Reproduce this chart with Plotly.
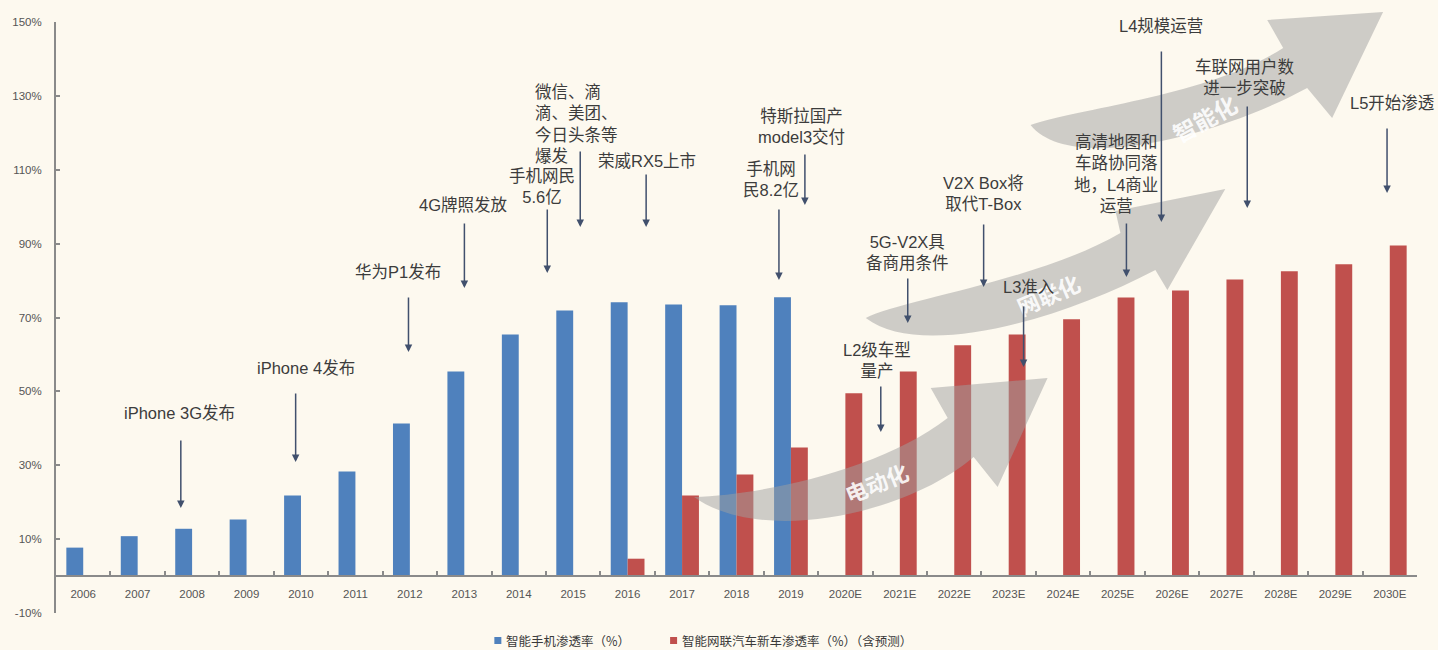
import plotly.graph_objects as go

# ---------------- data ----------------
years = ["2006", "2007", "2008", "2009", "2010", "2011", "2012", "2013", "2014",
         "2015", "2016", "2017", "2018", "2019", "2020E", "2021E", "2022E",
         "2023E", "2024E", "2025E", "2026E", "2027E", "2028E", "2029E", "2030E"]
smartphone_rate = [7.7, 10.8, 12.8, 15.3, 21.8, 28.3, 41.3, 55.4, 65.4,
                   71.9, 74.1, 73.5, 73.3, 75.5] + [None] * 11
icv_rate = [None] * 10 + [4.7, 21.8, 27.5, 34.8, 49.5, 55.4, 62.5, 65.4,
                          69.5, 75.4, 77.3, 80.3, 82.5, 84.4, 89.5]
series_names = ["智能手机渗透率（%）", "智能网联汽车新车渗透率（%）（含预测）"]
y_tick_vals = [-10, 10, 30, 50, 70, 90, 110, 130, 150]
y_tick_text = ["-10%", "10%", "30%", "50%", "70%", "90%", "110%", "130%", "150%"]

events = ["iPhone 3G发布", "iPhone 4发布", "华为P1发布", "4G牌照发放",
          "手机网民<br>5.6亿", "微信、滴<br>滴、美团、<br>今日头条等<br>爆发",
          "荣威RX5上市", "特斯拉国产<br>model3交付", "手机网<br>民8.2亿",
          "L2级车型<br>量产", "5G-V2X具<br>备商用条件", "V2X Box将<br>取代T-Box",
          "L3准入", "高清地图和<br>车路协同落<br>地，L4商业<br>运营", "L4规模运营",
          "车联网用户数<br>进一步突破", "L5开始渗透"]
stages = ["电动化", "网联化", "智能化"]

# ---------------- styling / layout helpers ----------------
W, H = 1438, 650
L, R, T, B = 54, 21, 22, 37
PW, PH = W - L - R, H - T - B
BG = "#FDF9EF"
BLUE, RED = "#4F81BD", "#C0504D"
FONT = "Liberation Sans, Noto Sans CJK SC, sans-serif"
TXT = "#3c3c3c"


def px(x):
    return (x - L) / PW


def py(y):
    return (H - B - y) / PH


fig = go.Figure()
fig.add_trace(go.Bar(x=years, y=smartphone_rate, name=series_names[0],
                     marker=dict(color=BLUE, line=dict(width=0)), showlegend=False))
fig.add_trace(go.Bar(x=years, y=icv_rate, name=series_names[1],
                     marker=dict(color=RED, line=dict(width=0)), showlegend=False))

shapes = []
annotations = []

# swoosh arrows (decorative), pixel coordinates -> paper
swooshes = [
    dict(T=(693, 497), U1=(760, 495), U2=(880, 470), NU=(947, 418), BL=(930, 388),
         P=(1047, 378), BR=(997, 487), NL=(973, 457), L1=(905, 515), L2=(760, 545)),
    dict(T=(865, 318), U1=(900, 300), U2=(1040, 280), NU=(1120, 233), BL=(1115, 211),
         P=(1225, 189), BR=(1167, 290), NL=(1155, 270), L1=(1060, 320), L2=(920, 360)),
    dict(T=(1030, 125), U1=(1080, 108), U2=(1210, 95), NU=(1283, 48), BL=(1267, 20),
         P=(1383, 12), BR=(1332, 118), NL=(1307, 88), L1=(1220, 135), L2=(1070, 175)),
]


def pt(p):
    return f"{px(p[0]):.5f},{py(p[1]):.5f}"


for s in swooshes:
    path = (f"M{pt(s['T'])} C{pt(s['U1'])} {pt(s['U2'])} {pt(s['NU'])} "
            f"L{pt(s['BL'])} L{pt(s['P'])} L{pt(s['BR'])} L{pt(s['NL'])} "
            f"C{pt(s['L1'])} {pt(s['L2'])} {pt(s['T'])} Z")
    shapes.append(dict(type="path", path=path, xref="paper", yref="paper",
                       fillcolor="rgba(160,160,160,0.5)", line=dict(width=0),
                       layer="above"))

stage_pos = [(876, 484, -22, 22), (1048, 296, -24, 22), (1205, 120, -29, 23)]
for name, (x, y, ang, fs) in zip(stages, stage_pos):
    annotations.append(dict(x=px(x), y=py(y), xref="paper", yref="paper", text=f"<b>{name}</b>",
                            showarrow=False, textangle=ang,
                            font=dict(family=FONT, size=fs, color="rgba(255,255,255,0.9)"),
                            xanchor="center", yanchor="middle"))

# event labels
text_pos = [
    (178, 413, "center"), (304, 368, "center"), (397, 272, "center"), (462, 205, "center"),
    (541, 186, "center"), (532, 124, "left"), (646, 161, "center"), (801, 126, "center"),
    (770, 180, "center"), (876, 360, "center"), (907, 252, "center"), (983, 194, "center"),
    (1028, 287, "center"), (1116, 174, "center"), (1161, 26, "center"), (1245, 77, "center"),
    (1392, 103, "center"),
]
for txt, (x, y, anc) in zip(events, text_pos):
    annotations.append(dict(x=px(x), y=py(y), xref="paper", yref="paper", text=txt,
                            showarrow=False, align=anc, xanchor=anc, yanchor="middle",
                            font=dict(family=FONT, size=16.5, color=TXT)))

# event arrows (x, tail y, head y)
arrow_pos = [
    (179, 439, 508), (294, 392, 462), (407, 296, 352), (463, 222, 288), (546, 208, 273),
    (579, 150, 227), (645, 173, 227), (804, 153, 205), (778, 208, 280), (880, 385, 432),
    (907, 277, 323), (983, 223, 287), (1023, 305, 367), (1126, 222, 277), (1161, 50, 222),
    (1247, 105, 208), (1387, 127, 193),
]
for x, yt, yh in arrow_pos:
    annotations.append(dict(x=px(x), y=py(yh), xref="paper", yref="paper", text="",
                            showarrow=True, ax=0, ay=yt - yh, axref="pixel", ayref="pixel",
                            arrowhead=2, arrowsize=1, arrowwidth=1.5,
                            arrowcolor="#41506d", standoff=0, startstandoff=0))

# legend (manual)
legend_items = [(493, BLUE, series_names[0]), (669, RED, series_names[1])]
for x, col, name in legend_items:
    shapes.append(dict(type="rect", xref="paper", yref="paper",
                       x0=px(x), x1=px(x + 7), y0=py(644), y1=py(637),
                       fillcolor=col, line=dict(width=0)))
    annotations.append(dict(x=px(x + 10), y=py(640.5), xref="paper", yref="paper",
                            text=name, showarrow=False, xanchor="left", yanchor="middle",
                            font=dict(family="Noto Sans CJK SC", size=12.5, color="#3a3a3a")))

fig.update_layout(
    width=W, height=H,
    margin=dict(l=L, r=R, t=T, b=B, pad=0),
    paper_bgcolor=BG, plot_bgcolor=BG,
    barmode="group", bargap=0.38, bargroupgap=0,
    showlegend=False,
    shapes=shapes, annotations=annotations,
    xaxis=dict(type="category", categoryorder="array", categoryarray=years,
               anchor="free", position=10 / 160,
               showline=True, linecolor="#8a8a8a", linewidth=2,
               ticks="inside", ticklen=4, tickcolor="#8a8a8a", tickwidth=1.5,
               tickson="boundaries", showgrid=False, zeroline=False,
               tickfont=dict(family=FONT, size=11.5, color="#555555"),
               ticklabelstandoff=7),
    yaxis=dict(range=[-10, 150], tickvals=y_tick_vals, ticktext=y_tick_text,
               showline=True, linecolor="#8a8a8a", linewidth=2,
               ticks="inside", ticklen=4, tickcolor="#8a8a8a", tickwidth=1.5,
               showgrid=False, zeroline=False,
               tickfont=dict(family=FONT, size=11.5, color="#555555"),
               ticklabelstandoff=10),
)

fig.write_html("out.html")
